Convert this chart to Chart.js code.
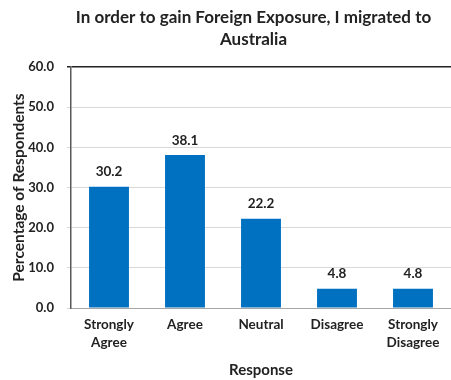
<!DOCTYPE html>
<html>
<head>
<meta charset="utf-8">
<script src="https://cdn.jsdelivr.net/npm/chart.js@4"></script>
<style>
  html, body { margin: 0; padding: 0; background: #fff; }
  #wrap { width: 451px; height: 380px; }
</style>
</head>
<body>
<div id="wrap"><canvas id="chart"></canvas></div>
<script>
const responses = [['Strongly', 'Agree'], 'Agree', 'Neutral', 'Disagree', ['Strongly', 'Disagree']]
const percentages = [30.2, 38.1, 22.2, 4.8, 4.8]
const yTicks = [0, 10, 20, 30, 40, 50, 60]
const titleLines = ['In order to gain Foreign Exposure, I migrated to', 'Australia']

const font = 'Lato'
const ink = '#222'

// value labels sitting above each bar
const barLabels = {
    id: 'barLabels',
    afterDatasetsDraw(chart) {
        const ctx = chart.ctx
        const meta = chart.getDatasetMeta(0)
        ctx.save()
        ctx.font = 'bold 13.5px ' + font
        ctx.fillStyle = ink
        ctx.textAlign = 'center'
        ctx.textBaseline = 'bottom'
        meta.data.forEach((bar, i) => {
            ctx.fillText(percentages[i].toFixed(1), bar.x, bar.y - 8)
        })
        ctx.restore()
    }
}

// two-line heading, centred a little right of the canvas middle
const heading = {
    id: 'heading',
    afterDraw(chart) {
        const ctx = chart.ctx
        ctx.save()
        ctx.font = 'bold 17px ' + font
        ctx.fillStyle = ink
        ctx.textAlign = 'center'
        ctx.textBaseline = 'middle'
        const cx = chart.width / 2 + 28
        titleLines.forEach((line, i) => ctx.fillText(line, cx, 18 + i * 22))
        ctx.restore()
    }
}

const data = {
    labels: responses,
    datasets: [{
        data: percentages,
        backgroundColor: '#0070c0',
        barPercentage: 0.7,
        categoryPercentage: 0.75
    }]
}

const config = {
    type: 'bar',
    data: data,
    options: {
        responsive: true,
        maintainAspectRatio: false,
        animation: false,
        layout: { padding: { top: 67, right: 0, left: 6, bottom: 0 } },
        plugins: {
            legend: { display: false },
            tooltip: { enabled: false }
        },
        scales: {
            x: {
                afterFit(axis) { axis.height = 72 },
                grid: { display: false, drawTicks: false },
                border: { color: '#a6a6a6' },
                ticks: {
                    color: ink,
                    font: { family: font, size: 13.5, weight: 'bold', lineHeight: 1.33 },
                    maxRotation: 0,
                    padding: 8
                },
                title: {
                    display: true,
                    text: 'Response',
                    color: ink,
                    font: { family: font, size: 15, weight: 'bold', lineHeight: 1.2 },
                    padding: { top: 0, bottom: 1 }
                }
            },
            y: {
                min: 0,
                max: 60,
                afterBuildTicks(axis) {
                    axis.ticks = yTicks.map(v => ({ value: v }))
                },
                afterFit(axis) { axis.width = 65 },
                grid: {
                    color: ctx => ctx.tick && ctx.tick.value === 60 ? ink : '#d9d9d9',
                    lineWidth: ctx => ctx.tick && ctx.tick.value === 60 ? 1.5 : 1,
                    tickLength: 4
                },
                border: { color: '#595959', width: 1.5 },
                ticks: {
                    color: ink,
                    font: { family: font, size: 13, weight: 'bold' },
                    padding: 13,
                    callback: v => v.toFixed(1)
                },
                title: {
                    display: true,
                    text: 'Percentage of Respondents',
                    color: ink,
                    font: { family: font, size: 15.5, weight: 'bold', lineHeight: 1.0 },
                    padding: { top: 5, bottom: 0 }
                }
            }
        }
    },
    plugins: [barLabels, heading]
}

new Chart(document.getElementById('chart'), config)
</script>
</body>
</html>
